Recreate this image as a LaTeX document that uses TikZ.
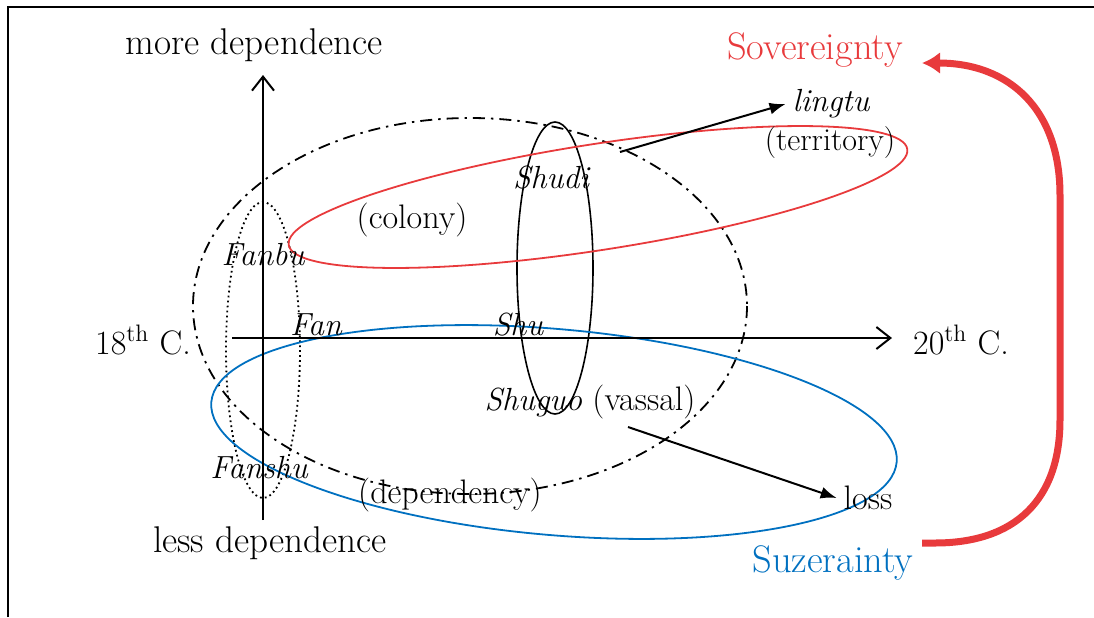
\documentclass[tikz,border=0pt]{standalone}
\usepackage{tikz}
\usetikzlibrary{arrows.meta, positioning, calc}
\definecolor{sovred}{RGB}{232,58,60}
\definecolor{suzblue}{RGB}{0,112,192}

\begin{document}
\begin{tikzpicture}[x=0.5pt, y=-0.5pt, font=\fontsize{17}{20}\selectfont]
	\tikzstyle{axis}=[line width=1pt, -{Straight Barb[length=7pt, width=11pt]}];
	\tikzstyle{pointer}=[line width=1pt, -{Latex[length=8pt, width=6pt]}];
	\tikzstyle{term}=[font=\fontsize{16}{19}\selectfont\itshape];
	\tikzstyle{big}=[font=\fontsize{18.6}{22}\selectfont];
	\tikzstyle{bigger}=[font=\fontsize{19.2}{23}\selectfont];
	\tikzstyle{dashdot}=[line width=0.9pt, dash pattern=on 6pt off 3pt on 1.2pt off 3pt];
	\tikzstyle{dots}=[line width=0.9pt, dash pattern=on 0.9pt off 1.6pt];

	\useasboundingbox (0,0) rectangle (1094,617);
	\draw[line width=1pt] (8,617) -- (8,7) -- (1094,7);

	\draw[dashdot] (470,306) ellipse [x radius=277, y radius=188];
	\draw[dots] (263,350) ellipse [x radius=37, y radius=148];
	\draw[line width=0.8pt] (555,268) ellipse [x radius=38, y radius=146];
	\draw[sovred, line width=0.9pt, rotate around={8.8:(598,197)}] (598,197) ellipse [x radius=313, y radius=53];
	\draw[suzblue, line width=0.9pt, rotate around={-5:(554,432)}] (554,432) ellipse [x radius=344, y radius=103];

	\node[big] (more) at (254,45) {more dependence};
	\node[big] (less) at (270,543) {less dependence};
	\node (c18) at (143,340) {18\textsuperscript{th} C.};
	\node (c20) at (961,340) {20\textsuperscript{th} C.};
	\coordinate (vlow) at (263,520);
	\coordinate (vtop) at (263,75);
	\coordinate (hleft) at (232,338);
	\coordinate (hright) at (892,338);
	\draw[axis] (vlow) -- (vtop);
	\draw[axis] (hleft) -- (hright);

	\node[term] (lingtu) at (831,104) {lingtu};
	\node[font=\fontsize{16}{19}\selectfont] (territory) at (830,143) {(territory)};
	\node[term] (shudi) at (551,178) {Shudi};
	\node (colony) at (412,220) {(colony)};
	\node[term] (fanbu) at (263,255) {Fanbu};
	\node[term] (fan) at (316,325) {Fan};
	\node[term] (shu) at (518,325) {Shu};
	\node (shuguo) at (590,402) {\textit{\fontsize{16}{19}\selectfont Shuguo} (vassal)};
	\node[term] (fanshu) at (259,468) {Fanshu};
	\node (dependency) at (450,495) {(dependency)};
	\node (loss) at (868,498) {loss};
	\node[bigger, text=sovred] (sov) at (815,50) {Sovereignty};
	\node[bigger, text=suzblue] (suz) at (833,563) {Suzerainty};

	\coordinate (shudiout) at (620,152);
	\coordinate (shuguoout) at (628,427);
	\draw[pointer] (shudiout) -- (lingtu.west);
	\draw[pointer] (shuguoout) -- (loss.west);

	\coordinate (redstart) at (922,543);
	\coordinate (redend) at (922,63);
	\draw[sovred, line width=3.5pt, -{Latex[length=9pt, width=11pt]}] (redstart) -- (935,543)
		.. controls (1015,543) and (1060,500) .. (1060,420) -- (1060,195)
		.. controls (1060,110) and (1010,63) .. (redend);
\end{tikzpicture}
\end{document}
